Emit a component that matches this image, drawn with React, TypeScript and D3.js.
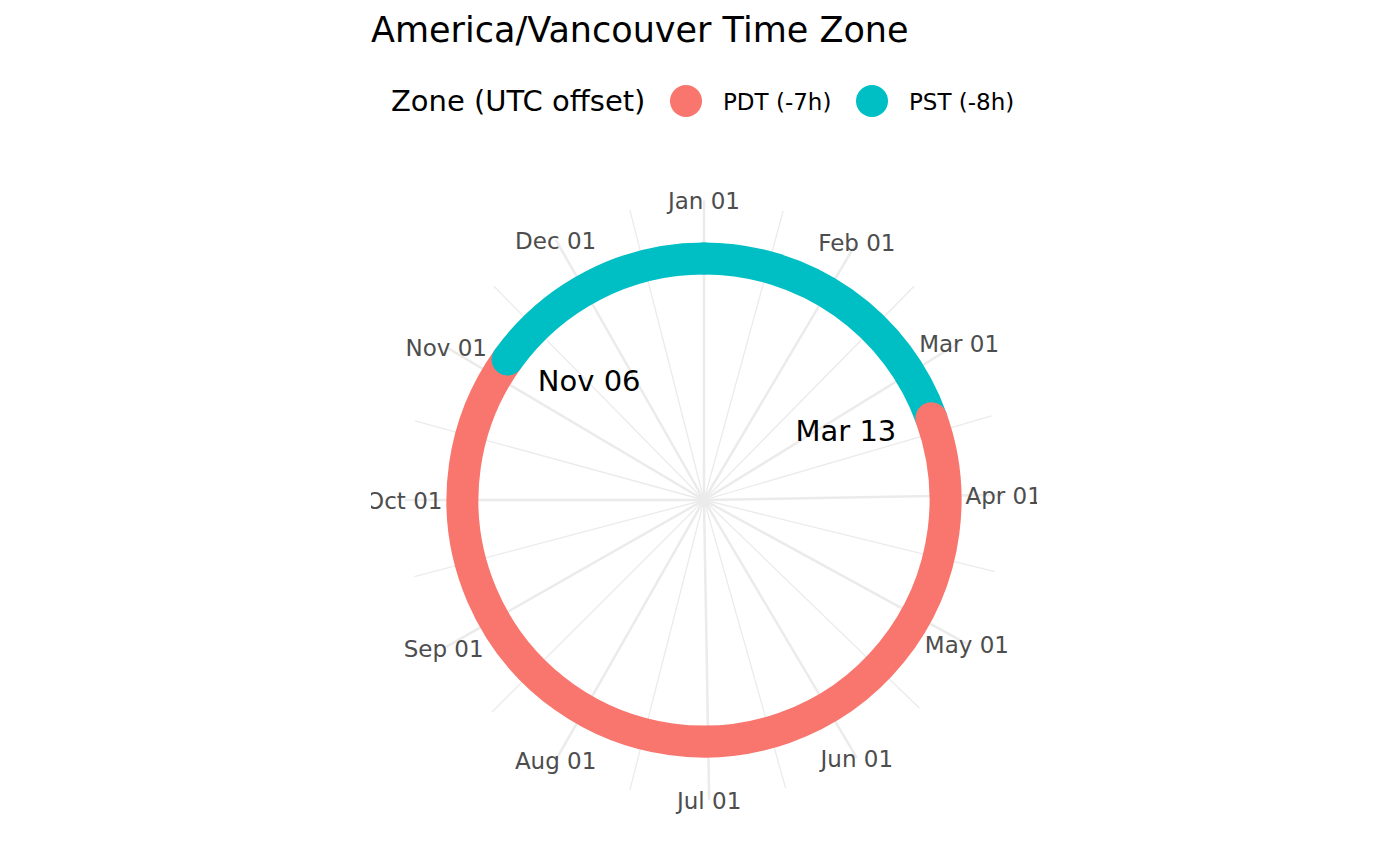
import React, { useEffect, useRef } from 'react'
import * as d3 from 'd3'

// DST segments for 2022 in America/Vancouver
const segStart = ['2022-01-01', '2022-03-13', '2022-11-06']
const segEnd = ['2022-03-13', '2022-11-06', '2022-12-31']
const segZone = ['PST (-8h)', 'PDT (-7h)', 'PST (-8h)']

const zones = ['PDT (-7h)', 'PST (-8h)']
const zoneColors = ['#F8766D', '#00BFC4']

const switchDates = ['2022-03-13', '2022-11-06']
const switchLabels = ['Mar 13', 'Nov 06']

const monthTicks = [
  '2022-01-01', '2022-02-01', '2022-03-01', '2022-04-01', '2022-05-01', '2022-06-01',
  '2022-07-01', '2022-08-01', '2022-09-01', '2022-10-01', '2022-11-01', '2022-12-01',
]
const monthLabels = [
  'Jan 01', 'Feb 01', 'Mar 01', 'Apr 01', 'May 01', 'Jun 01',
  'Jul 01', 'Aug 01', 'Sep 01', 'Oct 01', 'Nov 01', 'Dec 01',
]

const W = 1400
const H = 866
const cx = 704
const cy = 500
const panel = 666
const FONT = 'DejaVu Sans, Liberation Sans, sans-serif'

const App = () => {
  const ref = useRef(null)

  useEffect(() => {
    const parse = d3.utcParse('%Y-%m-%d')
    const svg = d3.select(ref.current)
    svg.selectAll('*').remove()

    const theta = d3
      .scaleUtc()
      .domain([parse('2022-01-01'), parse('2022-12-31')])
      .range([0, 2 * Math.PI])
    const rScale = d3.scaleLinear().domain([0, 1]).range([0, panel * 0.45])
    const rRing = rScale(0.806)
    const rText = rScale(0.682)

    const px = (a, r) => cx + r * Math.sin(a)
    const py = (a, r) => cy - r * Math.cos(a)

    svg
      .append('defs')
      .append('clipPath')
      .attr('id', 'panel-clip')
      .append('rect')
      .attr('x', cx - panel / 2)
      .attr('y', cy - panel / 2)
      .attr('width', panel)
      .attr('height', panel)

    const body = svg.append('g').attr('clip-path', 'url(#panel-clip)')

    // grid lines: major at month starts, minor halfway between
    const majors = monthTicks.map((d) => parse(d))
    const nextYear = parse('2023-01-01')
    const minors = majors.map((d, i) => {
      const nxt = i < majors.length - 1 ? majors[i + 1] : nextYear
      return new Date((d.getTime() + nxt.getTime()) / 2)
    })
    const rOuter = rScale(1)

    body
      .selectAll('line.minor')
      .data(minors)
      .enter()
      .append('line')
      .attr('class', 'minor')
      .attr('x1', cx)
      .attr('y1', cy)
      .attr('x2', (d) => px(theta(d), rOuter))
      .attr('y2', (d) => py(theta(d), rOuter))
      .attr('stroke', '#EBEBEB')
      .attr('stroke-width', 1.3)

    body
      .selectAll('line.major')
      .data(majors)
      .enter()
      .append('line')
      .attr('class', 'major')
      .attr('x1', cx)
      .attr('y1', cy)
      .attr('x2', (d) => px(theta(d), rOuter))
      .attr('y2', (d) => py(theta(d), rOuter))
      .attr('stroke', '#EBEBEB')
      .attr('stroke-width', 2.5)

    // the ring, one arc per segment with round caps
    const color = d3.scaleOrdinal().domain(zones).range(zoneColors)
    segStart.forEach((s, i) => {
      const a0 = theta(parse(s)) - Math.PI / 2
      const a1 = theta(parse(segEnd[i])) - Math.PI / 2
      const p = d3.path()
      p.moveTo(cx + rRing * Math.cos(a0), cy + rRing * Math.sin(a0))
      p.arc(cx, cy, rRing, a0, a1)
      body
        .append('path')
        .attr('d', p.toString())
        .attr('fill', 'none')
        .attr('stroke', color(segZone[i]))
        .attr('stroke-width', 32)
        .attr('stroke-linecap', 'round')
    })

    // month labels
    body
      .selectAll('text.month')
      .data(majors)
      .enter()
      .append('text')
      .attr('class', 'month')
      .attr('x', (d) => px(theta(d), rOuter))
      .attr('y', (d) => py(theta(d), rOuter) + 1)
      .attr('text-anchor', 'middle')
      .attr('dominant-baseline', 'central')
      .attr('font-family', FONT)
      .attr('font-size', 23)
      .attr('fill', '#4D4D4D')
      .text((d, i) => monthLabels[i])

    // switch date annotations
    switchDates.forEach((s, i) => {
      const a = theta(parse(s))
      body
        .append('text')
        .attr('x', px(a, rText))
        .attr('y', py(a, rText))
        .attr('text-anchor', Math.sin(a) > 0 ? 'end' : 'start')
        .attr('dominant-baseline', 'central')
        .attr('font-family', FONT)
        .attr('font-size', 29)
        .attr('fill', '#000')
        .text(switchLabels[i])
    })

    // title
    svg
      .append('text')
      .attr('x', 371)
      .attr('y', 42)
      .attr('font-family', FONT)
      .attr('font-size', 35)
      .attr('fill', '#000')
      .text('America/Vancouver Time Zone')

    // legend
    const legend = svg.append('g').attr('transform', 'translate(391,101)')
    legend
      .append('text')
      .attr('x', 0)
      .attr('y', 0)
      .attr('dominant-baseline', 'central')
      .attr('font-family', FONT)
      .attr('font-size', 29)
      .attr('fill', '#000')
      .text('Zone (UTC offset)')

    const keyX = [295, 481]
    zones.forEach((z, i) => {
      legend
        .append('circle')
        .attr('cx', keyX[i])
        .attr('cy', 0)
        .attr('r', 16)
        .attr('fill', color(z))
      legend
        .append('text')
        .attr('x', keyX[i] + 37)
        .attr('y', 1)
        .attr('dominant-baseline', 'central')
        .attr('font-family', FONT)
        .attr('font-size', 23)
        .attr('fill', '#000')
        .text(z)
    })
  }, [])

  return (
    <svg
      ref={ref}
      width={W}
      height={H}
      style={{ position: 'absolute', left: 0, top: 0, background: '#fff' }}
    ></svg>
  )
}

export default App
